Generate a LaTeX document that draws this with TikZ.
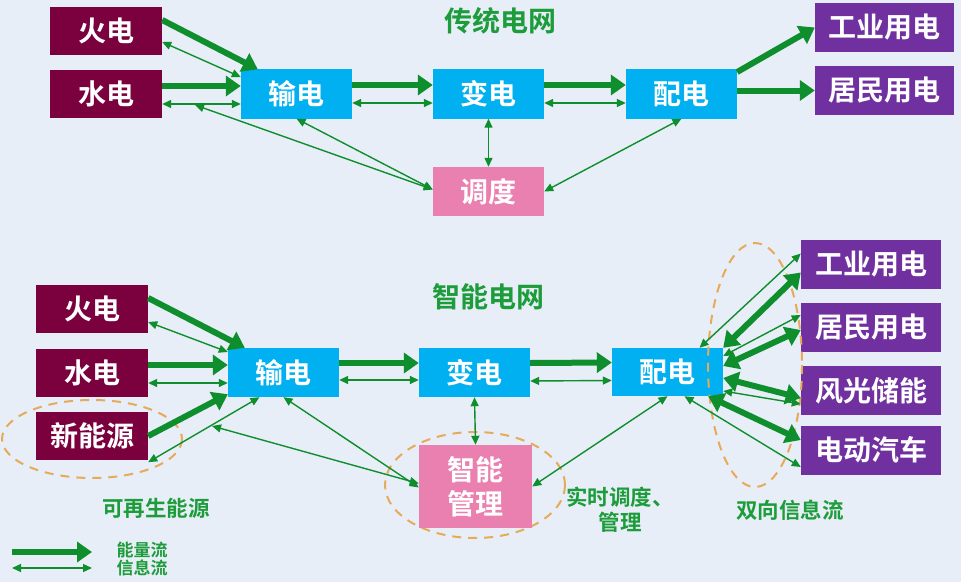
\documentclass[tikz,border=0pt]{standalone}
\usepackage{fontspec}
\setmainfont{Noto Sans CJK SC}[BoldFont={Noto Sans CJK SC Bold}]
\usetikzlibrary{arrows.meta,calc}
\definecolor{bgc}{RGB}{232,238,247}
\definecolor{maroonc}{RGB}{122,0,62}
\definecolor{bluec}{RGB}{0,176,240}
\definecolor{purplec}{RGB}{112,48,160}
\definecolor{pinkc}{RGB}{234,128,176}
\definecolor{arrowg}{RGB}{14,142,44}
\definecolor{textg}{RGB}{28,156,58}
\definecolor{dashc}{RGB}{230,170,90}
\tikzset{
  box/.style={minimum width=111pt, minimum height=49pt, inner sep=0pt, text=white,
    font=\fontsize{28}{30}\selectfont\bfseries},
  srcbox/.style={box, fill=maroonc, minimum width=112pt, minimum height=48pt},
  bluebox/.style={box, fill=bluec},
  userbox/.style={box, fill=purplec, minimum width=140pt},
  pinkbox/.style={box, fill=pinkc},
  title/.style={text=textg, font=\fontsize{28}{30}\selectfont\bfseries},
  note/.style={text=textg, font=\fontsize{21.5}{25}\selectfont\bfseries, align=center},
  legendtxt/.style={text=textg, font=\fontsize{17}{19}\selectfont\bfseries},
  energy/.style={draw=arrowg, line width=6pt, -{Triangle[length=15pt,width=20pt]}},
  energyboth/.style={draw=arrowg, line width=6pt, {Triangle[length=15pt,width=20pt]}-{Triangle[length=15pt,width=20pt]}},
  info/.style={draw=arrowg, line width=1.4pt, {Triangle[length=9pt,width=8pt]}-{Triangle[length=9pt,width=8pt]}},
  ring/.style={draw=dashc, line width=2pt, dash pattern=on 9pt off 7pt},
}
\begin{document}
\begin{tikzpicture}[x=1pt,y=-1pt]
\fill[bgc] (0,0) rectangle (961,582);
\fill[white] (0,582) rectangle (961,586);
\useasboundingbox (0,0) rectangle (961,586);

% ---------- traditional grid ----------
\node[title] (t1) at (500,21) {传统电网};
\node[srcbox] (th1) at (106,31) {火电};
\node[srcbox] (sh1) at (106,94) {水电};
\node[bluebox] (sd1) at (296.5,94) {输电};
\node[bluebox] (bd1) at (488.5,94) {变电};
\node[bluebox] (pd1) at (681.5,94) {配电};
\node[userbox, minimum width=139pt] (gy1) at (884.5,27.5) {工业用电};
\node[userbox, minimum width=139pt] (jm1) at (884.5,90.5) {居民用电};
\node[pinkbox] (dd) at (488.5,191.5) {调度};
\coordinate (c1) at (195,105);

\draw[energy] ([yshift=11pt]th1.east) -- ([xshift=17pt]sd1.north west);
\draw[info] ([yshift=-11pt]th1.east) -- ([yshift=17pt]sd1.west);
\draw[energy] ([yshift=8pt]sh1.east) -- ([yshift=8pt]sd1.west);
\draw[info] ([yshift=-10pt]sh1.east) -- ([yshift=-10pt]sd1.west);
\draw[energy] ([yshift=9pt]sd1.east) -- ([yshift=9pt]bd1.west);
\draw[info] ([yshift=-9pt]sd1.east) -- ([yshift=-9pt]bd1.west);
\draw[energy] ([yshift=9pt]bd1.east) -- ([yshift=9pt]pd1.west);
\draw[info] ([yshift=-9pt]bd1.east) -- ([yshift=-9pt]pd1.west);
\draw[energy] ([yshift=22pt]pd1.east) -- (gy1.west);
\draw[energy] (pd1.east |- jm1.west) -- (jm1.west);
\draw[info] (bd1.south) -- (dd.north);
\draw[info] (dd.east) -- (pd1.south);
\draw[info] ([yshift=2pt]dd.west) -- (sd1.south);
\draw[info] ([yshift=2pt]dd.west) -- (c1);

% ---------- smart grid ----------
\node[title] (t2) at (488,297) {智能电网};
\draw[ring] (92,439) ellipse [x radius=90, y radius=39];
\draw[ring] (475,485) ellipse [x radius=90, y radius=53];
\node[srcbox] (th2) at (92,309) {火电};
\node[srcbox] (sh2) at (92,372.5) {水电};
\node[srcbox] (xn) at (92,436) {新能源};
\node[bluebox] (sd2) at (283.5,372.5) {输电};
\node[bluebox] (bd2) at (474.5,372.5) {变电};
\node[bluebox, minimum height=48pt] (pd2) at (667.5,372) {配电};
\node[userbox] (gy2) at (871,264.5) {工业用电};
\node[userbox] (jm2) at (871,327) {居民用电};
\node[userbox] (fg) at (871,390.5) {风光储能};
\node[userbox] (dc) at (871,450) {电动汽车};
\node[pinkbox, minimum width=113pt, minimum height=83pt, align=center,
  font=\fontsize{28}{34}\selectfont\bfseries] (zn) at (475.5,486.5) {智能\\管理};
\draw[ring] (755,365) ellipse [x radius=47, y radius=122];
\coordinate (c2) at (212,426);

\draw[energy] ([yshift=11pt]th2.east) -- ([xshift=17pt]sd2.north west);
\draw[info] ([yshift=-13pt]th2.east) -- ([yshift=20.5pt]sd2.west);
\draw[energy] ([yshift=7.5pt]sh2.east) -- ([yshift=7.5pt]sd2.west);
\draw[info] ([yshift=-10.5pt]sh2.east) -- ([yshift=-10.5pt]sd2.west);
\draw[energy] (xn.east) -- ([yshift=3pt]sd2.south west);
\draw[info] ([yshift=-2pt]xn.south east) -- ([xshift=-24pt]sd2.south);
\draw[info] ([yshift=-1pt]zn.west) -- (sd2.south);
\draw[info] ([yshift=3pt]zn.west) -- (c2);
\draw[energy] ([yshift=9.5pt]sd2.east) -- ([yshift=9.5pt]bd2.west);
\draw[info] ([yshift=-7.5pt]sd2.east) -- ([yshift=-7.5pt]bd2.west);
\draw[energy] ([yshift=9.5pt]bd2.east) -- ([yshift=9.5pt]pd2.west);
\draw[info] ([yshift=-8.5pt]bd2.east) -- ([yshift=-8.5pt]pd2.west);
\draw[info] (bd2.south) -- (zn.north);
\draw[info] (zn.east) -- (pd2.south);

\draw[info] ([xshift=32pt]pd2.north) -- ([yshift=11pt]gy2.west);
\draw[energyboth] (pd2.north east) -- ([yshift=-8pt]gy2.west);
\draw[info] ([yshift=16pt]pd2.east) -- ([yshift=12pt]jm2.west);
\draw[energyboth] ([yshift=6pt]pd2.east) -- ([yshift=-3pt]jm2.west);
\draw[energyboth] ([yshift=-6pt]pd2.east) -- ([yshift=-7.5pt]fg.west);
\draw[info] ([yshift=-19pt]pd2.east) -- ([yshift=-13.5pt]fg.west);
\draw[energyboth] ([xshift=-15pt]pd2.south east) -- ([yshift=10pt]dc.west);
\draw[info] ([xshift=17pt]pd2.south) -- ([yshift=-17pt]dc.west);

\node[note] (n1) at (156,508) {可再生能源};
\node[note] (n2) at (620,510) {实时调度、\\管理};
\node[note] (n3) at (790,510) {双向信息流};

% ---------- legend ----------
\coordinate (la) at (12,552);
\coordinate (lb) at (92,552);
\coordinate (lc) at (12,568);
\coordinate (ld) at (92,568);
\draw[energy] (la) -- (lb);
\draw[info] (lc) -- (ld);
\node[legendtxt] (l1) at (142,550) {能量流};
\node[legendtxt] (l2) at (142,568) {信息流};
\end{tikzpicture}
\end{document}
